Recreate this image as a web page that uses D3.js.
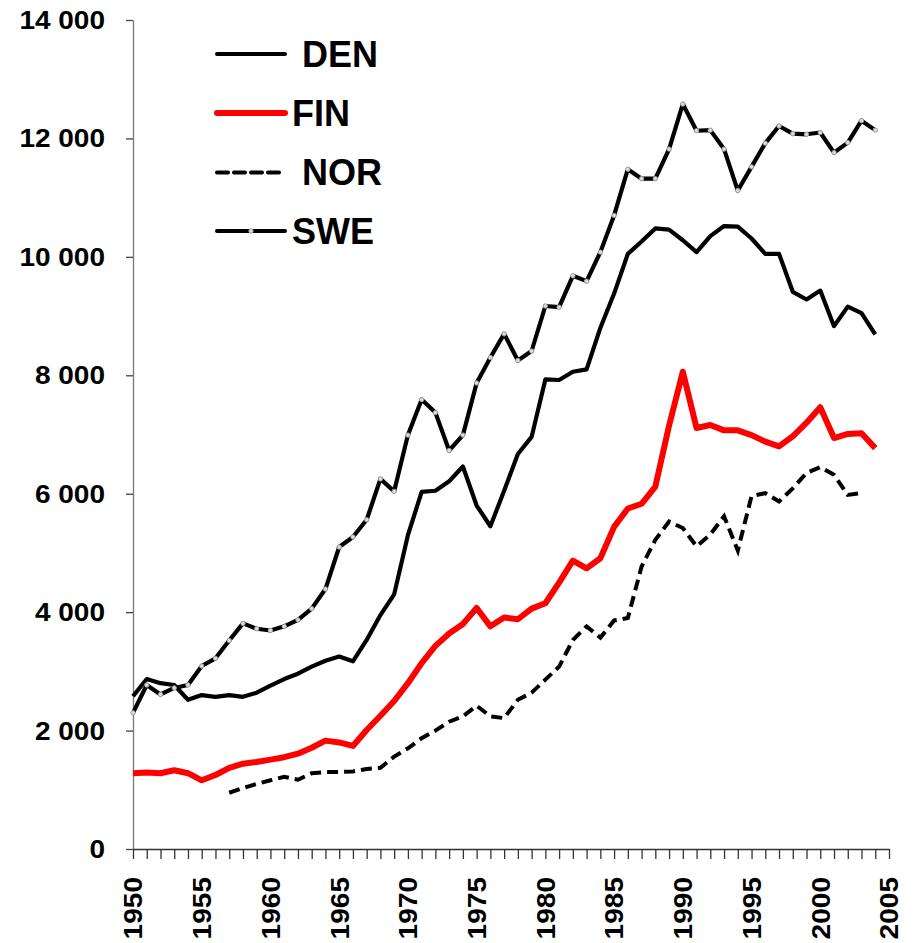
<!DOCTYPE html>
<html><head><meta charset="utf-8">
<script src="https://cdn.jsdelivr.net/npm/d3@7"></script>
<style>
body{margin:0;background:#fff;}
text{font-family:Arial,"Liberation Sans",sans-serif;font-weight:bold;fill:#000;}
</style></head>
<body><svg id="c" width="915" height="943"></svg>
<script>
const years = d3.range(1950, 2005);
const den = [2580,2870,2800,2770,2520,2600,2570,2600,2570,2640,2760,2870,2960,3080,3180,3250,3170,3530,3950,4300,5300,6030,6050,6210,6460,5800,5450,6050,6670,6960,7930,7920,8060,8100,8800,9380,10050,10260,10480,10460,10280,10080,10350,10520,10510,10310,10050,10050,9410,9280,9430,8830,9160,9050,8690];
const fin = [1280,1290,1280,1330,1280,1160,1250,1370,1440,1470,1510,1550,1610,1710,1830,1800,1740,2010,2250,2500,2800,3140,3430,3640,3800,4070,3760,3910,3880,4060,4150,4500,4870,4740,4910,5440,5750,5830,6120,7150,8060,7110,7160,7070,7070,6990,6880,6800,6970,7200,7460,6940,7010,7020,6770];
const nor = [null,null,null,null,null,null,null,950,1030,1100,1160,1220,1170,1280,1300,1300,1310,1350,1370,1560,1700,1870,2000,2150,2240,2420,2240,2210,2520,2640,2860,3080,3530,3760,3570,3860,3900,4770,5220,5530,5420,5110,5310,5620,5040,5960,6010,5870,6090,6350,6450,6320,5980,6010,null];
const swe = [2300,2770,2610,2720,2770,3090,3220,3520,3810,3720,3690,3760,3870,4060,4390,5100,5270,5560,6250,6040,6990,7590,7370,6730,6990,7870,8300,8700,8250,8410,9170,9150,9680,9590,10080,10700,11480,11320,11320,11820,12580,12130,12140,11820,11120,11520,11920,12210,12080,12070,12100,11760,11930,12300,12140];
const yTicks = [0,2000,4000,6000,8000,10000,12000,14000];
const xLabelYears = d3.range(1950, 2006, 5);
const seriesNames = [" DEN","FIN"," NOR","SWE"];

const svg = d3.select("#c");
const x = d3.scaleLinear().domain([1950, 2005]).range([133, 889]);
const y = d3.scaleLinear().domain([0, 14000]).range([849, 20]);
const fmt = v => d3.format(",")(v).replace(/,/g, " ");

// y axis
const ya = svg.append("g").attr("transform","translate(133,0)")
  .call(d3.axisLeft(y).tickValues(yTicks).tickSize(7).tickSizeOuter(0).tickFormat(""));
ya.select(".domain").attr("stroke","#777").attr("stroke-width",1.3);
ya.selectAll(".tick line").attr("stroke","#444").attr("stroke-width",1.3);
svg.append("g").selectAll("text").data(yTicks).join("text")
  .attr("transform", d => `translate(105,${y(d)}) scale(1.12,1)`)
  .attr("text-anchor","end").attr("dy","0.36em")
  .style("font-size","25px").text(fmt);

// x axis
const xa = svg.append("g").attr("transform","translate(0,849)")
  .call(d3.axisBottom(x).tickValues(d3.range(1950,2006)).tickSize(10).tickSizeOuter(0).tickFormat(""));
xa.select(".domain").attr("stroke","#333").attr("stroke-width",1.5);
xa.selectAll(".tick line").attr("stroke","#333").attr("stroke-width",1.3);
svg.append("g").selectAll("text").data(xLabelYears).join("text")
  .attr("transform", d => `translate(${x(d)},877) rotate(-90) scale(1.08,1)`)
  .attr("text-anchor","end").attr("dy","0.36em")
  .style("font-size","26px").text(d => d);

const line = d3.line().defined(d => d[1] != null).x(d => x(d[0])).y(d => y(d[1]));
const pts = arr => years.map((yr,i) => [yr, arr[i]]);

svg.append("path").datum(pts(den)).attr("d", line).attr("fill","none")
  .attr("stroke","#000").attr("stroke-width",4.2).attr("stroke-linejoin","round");
svg.append("path").datum(pts(nor)).attr("d", line).attr("fill","none")
  .attr("stroke","#000").attr("stroke-width",4).attr("stroke-dasharray","11,6");
svg.append("path").datum(pts(fin)).attr("d", line).attr("fill","none")
  .attr("stroke","#ff0000").attr("stroke-width",6).attr("stroke-linejoin","round");
svg.append("path").datum(pts(swe)).attr("d", line).attr("fill","none")
  .attr("stroke","#000").attr("stroke-width",4.2).attr("stroke-linejoin","round");
svg.append("g").selectAll("circle").data(pts(swe)).join("circle")
  .attr("cx", d => x(d[0])).attr("cy", d => y(d[1])).attr("r",2.2)
  .attr("fill","#ddd").attr("stroke","#999").attr("stroke-width",1);

// legend
const lg = svg.append("g");
const ly = [54, 113, 172.5, 231];
const styles = [
  {c:"#000", w:4, dash:null},
  {c:"#ff0000", w:6, dash:null},
  {c:"#000", w:4, dash:"11,6"},
  {c:"#000", w:4, dash:null}
];
seriesNames.forEach((n,i) => {
  lg.append("line").attr("x1",217).attr("x2",285).attr("y1",ly[i]).attr("y2",ly[i])
    .attr("stroke",styles[i].c).attr("stroke-width",styles[i].w)
    .attr("stroke-linecap","round").attr("stroke-dasharray",styles[i].dash);
  lg.append("text").attr("x",292).attr("y",ly[i]).attr("dy","0.36em")
    .style("font-size","36px").style("white-space","pre").text(n);
});
lg.append("circle").attr("cx",251).attr("cy",ly[3]).attr("r",2.2)
  .attr("fill","#ddd").attr("stroke","#999").attr("stroke-width",1);
</script></body></html>
